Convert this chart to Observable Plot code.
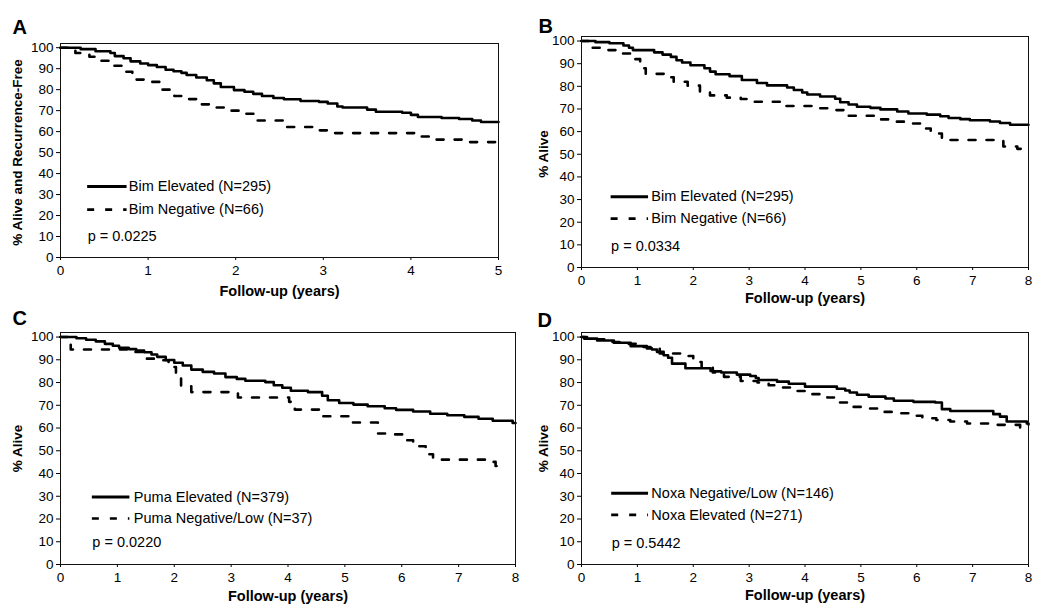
<!DOCTYPE html>
<html>
<head>
<meta charset="utf-8">
<script src="https://cdn.jsdelivr.net/npm/d3@7"></script>
<script src="https://cdn.jsdelivr.net/npm/@observablehq/plot@0.6"></script>
<style>
  body { margin: 0; background: #fff; }
  #root { position: relative; width: 1050px; height: 610px; background: #fff; }
  #root svg { position: absolute; overflow: visible; }
</style>
</head>
<body>
<div id="root"></div>
<script>
// ---------- tick labels ----------
const yTicks = [0, 10, 20, 30, 40, 50, 60, 70, 80, 90, 100];
const xTicks5 = [0, 1, 2, 3, 4, 5];
const xTicks8 = [0, 1, 2, 3, 4, 5, 6, 7, 8];

// ---------- Panel A: Bim, recurrence-free survival ----------
const aElevT = [0, 0.23, 0.4, 0.57, 0.62, 0.72, 0.8, 0.91, 1.0, 1.1, 1.2, 1.29, 1.38, 1.44, 1.55, 1.67, 1.75, 1.83, 1.98, 2.1, 2.2, 2.3, 2.43, 2.55, 2.74, 2.95, 3.05, 3.16, 3.22, 3.5, 3.6, 3.9, 4.0, 4.08, 4.35, 4.55, 4.7, 4.8, 5.0];
const aElevS = [100, 99.3, 98.3, 97.5, 96, 95, 93.5, 92.5, 91.7, 90.8, 89.5, 88.8, 88, 87, 85.8, 84.5, 83, 81.3, 79.8, 79, 78, 77, 76, 75.4, 74.6, 74.2, 73.4, 72, 71.5, 70.5, 69.5, 69, 68, 67, 66.5, 66, 65.3, 64.6, 64.6];
const aNegT = [0, 0.17, 0.33, 0.45, 0.58, 0.75, 0.82, 1.0, 1.15, 1.3, 1.42, 1.58, 1.72, 1.92, 2.1, 2.24, 2.55, 2.9, 3.05, 4.05, 4.25, 4.62, 4.97, 5];
const aNegS = [100, 97.5, 95.7, 93.8, 91.4, 88.5, 84.8, 83.7, 80, 77, 75.5, 73, 71.5, 70, 68.5, 65.3, 62.2, 60.6, 59.3, 57.7, 56.2, 55, 53, 53];

// ---------- Panel B: Bim, overall survival ----------
const bElevT = [0, 0.25, 0.5, 0.75, 0.85, 0.92, 1.3, 1.45, 1.6, 1.7, 1.8, 1.95, 2.2, 2.3, 2.4, 2.65, 2.87, 3.14, 3.32, 3.68, 3.8, 3.95, 4.04, 4.27, 4.54, 4.63, 4.78, 4.93, 5.17, 5.35, 5.65, 5.85, 6.18, 6.42, 6.57, 6.78, 6.95, 7.31, 7.49, 7.67, 8];
const bElevS = [100, 99.5, 99, 98, 97, 96, 95, 94, 93, 91.5, 90.5, 89.3, 88, 86.5, 85.3, 84.5, 82.8, 81.5, 80.4, 79.5, 78.4, 77.3, 76.4, 75.5, 74.5, 73, 72, 71, 70.5, 69.8, 68.9, 68, 67.5, 66.8, 66, 65.5, 65, 64.5, 63.8, 63, 63];
const bNegT = [0, 0.15, 0.4, 0.65, 0.95, 1.05, 1.15, 1.5, 1.65, 1.9, 2.12, 2.3, 2.6, 2.85, 3.1, 3.6, 4.2, 4.55, 4.7, 5.25, 5.55, 5.8, 6.1, 6.25, 6.45, 7.55, 7.8, 8];
const bNegS = [100, 97, 96, 94.5, 92, 88, 85.5, 84, 82, 80.3, 77.5, 76, 75, 74.4, 73.2, 71.3, 70.3, 69.5, 67, 65.4, 64.4, 63.6, 61.4, 59.2, 56.3, 53.4, 52.4, 52.4];

// ---------- Panel C: Puma, overall survival ----------
const cElevT = [0, 0.28, 0.45, 0.62, 0.78, 0.92, 1.03, 1.2, 1.33, 1.47, 1.6, 1.7, 1.85, 2.0, 2.15, 2.3, 2.5, 2.7, 2.9, 3.1, 3.25, 3.6, 3.75, 3.9, 4.05, 4.35, 4.6, 4.7, 4.9, 5.15, 5.4, 5.7, 5.9, 6.2, 6.5, 6.8, 7.1, 7.35, 7.6, 7.95, 8];
const cElevS = [100, 99.5, 98.8, 98.1, 97, 96.2, 95.3, 94.7, 94.1, 93.3, 92.3, 91.3, 89.9, 88.7, 87.5, 85.7, 84.7, 84, 82.4, 81.6, 80.8, 80.2, 78.8, 77.7, 76.4, 75.8, 74.2, 72.2, 71, 70.3, 69.6, 68.7, 68, 67.3, 66.3, 65.6, 64.9, 64.1, 63.2, 62.2, 62.2];
const cLowT = [0, 0.18, 1.28, 1.45, 1.68, 1.9, 2.03, 2.12, 2.3, 3.12, 4.02, 4.12, 4.62, 5.12, 5.58, 5.8, 6.05, 6.2, 6.42, 6.55, 7.5, 7.65, 7.8];
const cLowS = [100, 94.5, 93.4, 90.5, 89.8, 86.8, 83.2, 78.3, 75.8, 73.4, 71.5, 68.1, 65.2, 62.4, 57.6, 57.2, 54.6, 52, 48.5, 46.1, 45.1, 43.3, 43.3];

// ---------- Panel D: Noxa, overall survival ----------
const dNegT = [0, 0.05, 0.28, 0.58, 0.88, 1.17, 1.26, 1.35, 1.47, 1.55, 1.62, 1.86, 2.31, 2.37, 2.5, 2.78, 3.02, 3.12, 3.17, 3.5, 3.71, 4.0, 4.57, 4.72, 4.8, 4.93, 5.14, 5.44, 5.59, 5.94, 6.33, 6.45, 6.6, 7.37, 7.49, 7.61, 7.97, 8];
const dNegS = [100, 99.3, 98.5, 97.5, 96, 95, 94.5, 93.5, 92, 90.9, 88.3, 86.3, 85.1, 84.9, 84.4, 83.5, 82.9, 82, 81.1, 80.4, 79.5, 78.2, 77.3, 76.5, 75.6, 74.6, 73.8, 73, 72, 71.5, 71.2, 68.3, 67.5, 66.1, 65, 62.9, 62, 61.5];
const dElevT = [0, 0.1, 0.5, 0.75, 1.0, 1.4, 1.8, 2.0, 2.15, 2.35, 2.55, 2.85, 3.15, 3.35, 3.6, 3.85, 4.1, 4.4, 4.58, 4.78, 5.05, 5.35, 5.6, 5.85, 6.1, 6.35, 6.6, 6.9, 7.4, 7.85, 8];
const dElevS = [100, 99, 97.8, 97, 95.6, 92.8, 91.7, 89, 86.5, 84.4, 82.5, 80.7, 80, 78.8, 77.8, 76.3, 74.9, 73.4, 71.2, 69.3, 68.6, 67.1, 66.5, 65.4, 64.3, 63.5, 62.9, 62, 61.4, 60.2, 60.2];

// ---------- labels ----------
const legendA = ["Bim Elevated (N=295)", "Bim Negative (N=66)"];
const legendC = ["Puma Elevated (N=379)", "Puma Negative/Low (N=37)"];
const legendD = ["Noxa Negative/Low (N=146)", "Noxa Elevated (N=271)"];
const pValues = ["p = 0.0225", "p = 0.0334", "p = 0.0220", "p = 0.5442"];
const xTitle = "Follow-up (years)";
const yTitles = ["% Alive and Recurrence-Free", "% Alive", "% Alive", "% Alive"];
const letters = ["A", "B", "C", "D"];

const FONT = "'Liberation Sans', Arial, Helvetica, sans-serif";
const toRows = (T, S) => T.map((t, i) => ({t, s: S[i]}));

function panel(o) {
  const solid = toRows(o.solidT, o.solidS);
  const dashed = toRows(o.dashT, o.dashS);
  const lw = 2.6, dash = "7,11";
  const chart = Plot.plot({
    width: o.width, height: o.height,
    marginLeft: o.ml, marginRight: o.mr, marginTop: o.mt, marginBottom: o.mb,
    x: {domain: [0, o.xMax]},
    y: {domain: [0, 102]},
    style: {fontFamily: FONT, fontSize: "13px", color: "#000", background: "transparent"},
    marks: [
      Plot.axisY(yTicks, {tickSize: 4, tickPadding: 3, fontSize: 13.5, label: null}),
      Plot.axisX(o.xTicks, {tickSize: 3, tickPadding: 5, fontSize: 13.5, label: null}),
      Plot.line(dashed, {x: "t", y: "s", curve: "step-after", stroke: "#000", strokeWidth: lw, strokeDasharray: dash}),
      Plot.line(solid, {x: "t", y: "s", curve: "step-after", stroke: "#000", strokeWidth: lw}),
      Plot.frame({stroke: "#111", strokeWidth: 1}),
      // legend
      Plot.ruleY([o.leg.y1], {x1: o.leg.x1, x2: o.leg.x2, stroke: "#000", strokeWidth: 3}),
      Plot.ruleY([o.leg.y2], {x1: o.leg.x1, x2: o.leg.x2, stroke: "#000", strokeWidth: lw, strokeDasharray: dash}),
      Plot.text([o.legend[0]], {x: o.leg.tx, y: o.leg.y1, textAnchor: "start", lineAnchor: "middle", fontSize: 14.5}),
      Plot.text([o.legend[1]], {x: o.leg.tx, y: o.leg.y2, textAnchor: "start", lineAnchor: "middle", fontSize: 14.5}),
      Plot.text([o.p], {x: o.leg.x1, y: o.leg.py, textAnchor: "start", lineAnchor: "middle", fontSize: 14.5}),
      // titles
      Plot.text([xTitle], {frameAnchor: "bottom", textAnchor: "middle", lineAnchor: "middle", dy: o.xtDy, fontSize: 14.5, fontWeight: "bold"}),
      Plot.text([o.yTitle], {frameAnchor: "left", textAnchor: "middle", lineAnchor: "middle", rotate: -90, dx: o.ytDx, dy: o.ytDy, fontSize: 13.5, fontWeight: "bold"}),
      Plot.text([o.letter], {frameAnchor: "top-left", textAnchor: "start", lineAnchor: "middle", dx: o.lDx, dy: o.lDy, fontSize: 20, fontWeight: "bold"})
    ]
  });
  chart.style.left = o.left + "px";
  chart.style.top = o.top + "px";
  document.getElementById("root").appendChild(chart);
}

panel({left: 0, top: 0, width: 520, height: 300, ml: 60, mr: 22, mt: 43, mb: 43, xMax: 5, xTicks: xTicks5,
  solidT: aElevT, solidS: aElevS, dashT: aNegT, dashS: aNegS, legend: legendA, p: pValues[0],
  leg: {x1: 0.31, x2: 0.76, tx: 0.78, y1: 33.8, y2: 22.8, py: 10.2},
  xtDy: 34, yTitle: yTitles[0], ytDx: -43, ytDy: 2, letter: letters[0], lDx: -48, lDy: -16});

panel({left: 520, top: 0, width: 530, height: 305, ml: 61, mr: 22, mt: 36, mb: 38, xMax: 8, xTicks: xTicks8,
  solidT: bElevT, solidS: bElevS, dashT: bNegT, dashS: bNegS, legend: legendA, p: pValues[1],
  leg: {x1: 0.53, x2: 1.2, tx: 1.25, y1: 31.2, y2: 21.6, py: 9.4},
  xtDy: 31, yTitle: yTitles[1], ytDx: -38, ytDy: 2, letter: letters[1], lDx: -43, lDy: -10});

panel({left: 0, top: 305, width: 520, height: 305, ml: 60, mr: 5, mt: 27, mb: 46, xMax: 8, xTicks: xTicks8,
  solidT: cElevT, solidS: cElevS, dashT: cLowT, dashS: cLowS, legend: legendC, p: pValues[2],
  leg: {x1: 0.56, x2: 1.22, tx: 1.29, y1: 29.7, y2: 20.2, py: 9.7},
  xtDy: 32, yTitle: yTitles[2], ytDx: -43, ytDy: 0, letter: letters[2], lDx: -48, lDy: -14});

panel({left: 520, top: 305, width: 530, height: 305, ml: 61, mr: 22, mt: 27, mb: 46, xMax: 8, xTicks: xTicks8,
  solidT: dNegT, solidS: dNegS, dashT: dElevT, dashS: dElevS, legend: legendD, p: pValues[3],
  leg: {x1: 0.54, x2: 1.2, tx: 1.25, y1: 31.3, y2: 21.8, py: 9.5},
  xtDy: 31, yTitle: yTitles[3], ytDx: -38, ytDy: 0, letter: letters[3], lDx: -44, lDy: -12});
</script>
</body>
</html>
